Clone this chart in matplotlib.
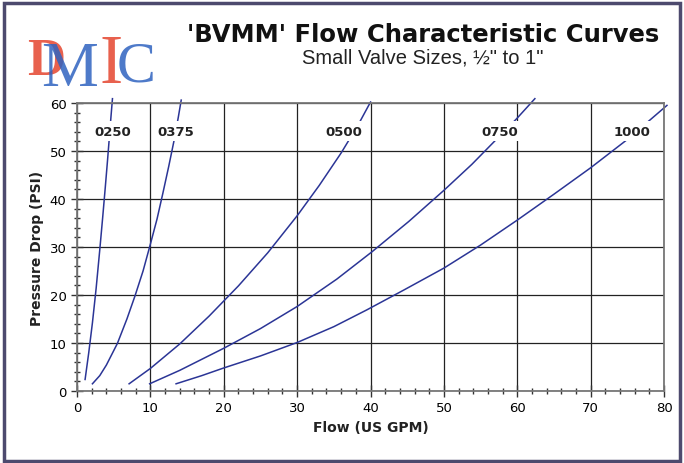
import matplotlib
matplotlib.use('Agg')
import matplotlib.pyplot as plt
from matplotlib.patches import Rectangle
from matplotlib.ticker import MultipleLocator

# curve points (flow GPM, pressure drop PSI)
q_0250 = [1.1, 1.6, 2.1, 2.6, 3.1, 3.5, 3.85, 4.15, 4.4, 4.62, 4.83]
p_0250 = [2.4, 8.0, 14.2, 21.3, 29.4, 36.2, 42.4, 47.9, 52.7, 57.0, 60.9]
q_0375 = [2.1, 3.1, 4.0, 5.5, 6.8, 7.9, 9.0, 10.0, 10.9, 11.7, 12.5, 13.2, 13.8, 14.2]
p_0375 = [1.5, 3.2, 5.4, 9.9, 15.0, 19.8, 25.0, 30.6, 35.8, 41.2, 46.8, 52.0, 57.0, 60.6]
q_0500 = [7.1, 10.0, 14.0, 18.0, 22.0, 26.0, 30.0, 33.0, 36.0, 38.3, 40.0]
p_0500 = [1.5, 4.7, 9.8, 15.6, 21.9, 28.8, 36.5, 42.8, 49.6, 55.4, 60.2]
q_0750 = [9.9, 14.0, 20.0, 25.0, 30.0, 35.4, 40.2, 45.2, 50.0, 53.8, 56.5, 59.9, 62.4]
p_0750 = [1.5, 4.3, 8.9, 13.0, 17.6, 23.3, 29.0, 35.3, 41.8, 47.2, 51.4, 56.7, 60.9]
q_1000 = [13.5, 17.0, 20.0, 25.0, 30.0, 35.0, 39.5, 44.5, 50.0, 55.0, 60.0, 65.0, 70.0, 75.0, 80.4]
p_1000 = [1.5, 3.2, 4.8, 7.3, 10.1, 13.4, 16.9, 21.0, 25.6, 30.4, 35.6, 41.0, 46.5, 52.4, 59.5]

sizes = ['0250', '0375', '0500', '0750', '1000']
label_x = [4.85, 13.5, 36.4, 57.6, 75.6]
label_y = 54.1

flows = [q_0250, q_0375, q_0500, q_0750, q_1000]
drops = [p_0250, p_0375, p_0500, p_0750, p_1000]

line_col = '#2b3596'

fig = plt.figure(figsize=(6.84, 4.64), dpi=100)
ax = fig.add_axes([0.1126, 0.1552, 0.8582, 0.6207])

for q, p in zip(flows, drops):
    ax.plot(q, p, color=line_col, lw=1.1, clip_on=False, zorder=2)

for s, lx in zip(sizes, label_x):
    ax.text(lx, label_y, s, ha='center', va='center', fontsize=9.5, fontweight='bold',
            color='#222222', zorder=4,
            bbox=dict(facecolor='white', edgecolor='none', pad=2.5))

ax.set_xlim(0, 80)
ax.set_ylim(0, 60)
ax.xaxis.set_major_locator(MultipleLocator(10))
ax.yaxis.set_major_locator(MultipleLocator(10))
ax.xaxis.set_minor_locator(MultipleLocator(2))
ax.yaxis.set_minor_locator(MultipleLocator(2))
ax.tick_params(which='major', direction='inout', length=8, width=1, color='#333333', labelsize=9.5)
ax.tick_params(which='minor', direction='inout', length=5, width=1, color='#333333')
ax.grid(which='major', color='#222222', lw=0.9, zorder=1)
ax.set_axisbelow(True)
for sp in ax.spines.values():
    sp.set_color('#777777')
    sp.set_linewidth(1.3)
ax.set_xlabel('Flow (US GPM)', fontsize=10, fontweight='bold', color='#222222')
ax.set_ylabel('Pressure Drop (PSI)', fontsize=10, fontweight='bold', color='#222222')

# titles
fig.text(0.618, 0.925, "'BVMM' Flow Characteristic Curves", ha='center', va='center',
         fontsize=17.5, fontweight='bold', color='#111111')
fig.text(0.618, 0.874, 'Small Valve Sizes, \u00bd" to 1"', ha='center', va='center',
         fontsize=14.5, family=['Liberation Sans Narrow', 'Liberation Sans', 'DejaVu Sans'],
         color='#222222')

# logo
fig.text(0.040, 0.866, 'D', fontsize=38, family='Liberation Serif', fontweight='bold',
         color='#e5452f', ha='left', va='center', alpha=0.85)
fig.text(0.060, 0.848, 'M', fontsize=46, family='Liberation Serif',
         color='#2f63c0', ha='left', va='center', alpha=0.85)
fig.text(0.145, 0.858, 'I', fontsize=50, family='Liberation Serif',
         color='#e5452f', ha='left', va='center', alpha=0.85)
fig.text(0.170, 0.855, 'C', fontsize=42, family='Liberation Serif',
         color='#2f63c0', ha='left', va='center', alpha=0.85)

# outer frame
fig.patches.append(Rectangle((0.006, 0.005), 0.988, 0.987, transform=fig.transFigure,
                             fill=False, edgecolor='#4d4a6e', lw=2.5))

fig.savefig('out.png', dpi=100)
